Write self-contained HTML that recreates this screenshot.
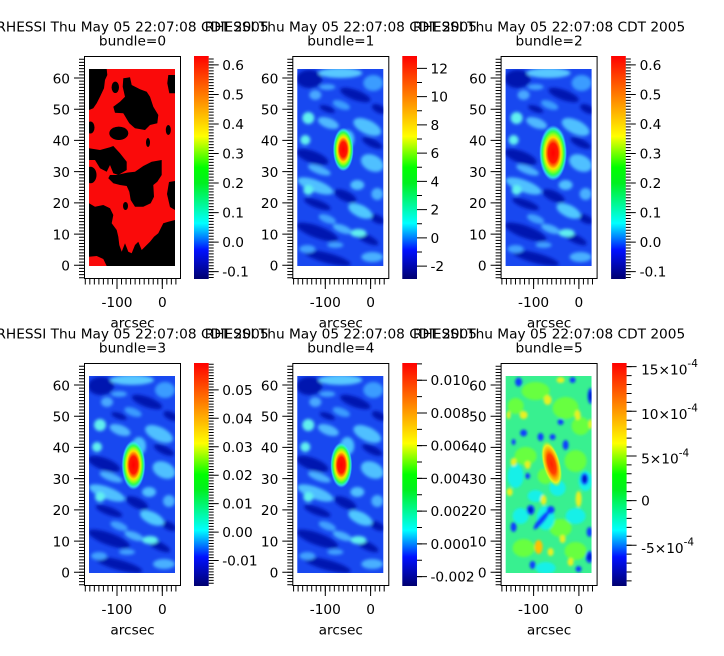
<!DOCTYPE html>
<html><head><meta charset="utf-8">
<style>
html,body{margin:0;padding:0;background:#fff;}
svg{display:block;}
text{font-family:"DejaVu Sans","Liberation Sans",sans-serif;font-size:13.7px;fill:#000;}
</style></head><body>
<svg width="724" height="656" viewBox="0 0 724 656" xmlns="http://www.w3.org/2000/svg">
<defs>
<linearGradient id="cb" x1="0" y1="0" x2="0" y2="1">
 <stop offset="0" stop-color="#ff0000"/>
 <stop offset="0.36" stop-color="#ffff00"/>
 <stop offset="0.5" stop-color="#00ff00"/>
 <stop offset="0.57" stop-color="#00f020"/>
 <stop offset="0.75" stop-color="#00ffff"/>
 <stop offset="0.87" stop-color="#0010ff"/>
 <stop offset="1" stop-color="#000070"/>
</linearGradient>
<radialGradient id="hs">
 <stop offset="0" stop-color="#ff0000"/>
 <stop offset="0.34" stop-color="#ff1800"/>
 <stop offset="0.46" stop-color="#ff8000"/>
 <stop offset="0.56" stop-color="#ffe000"/>
 <stop offset="0.66" stop-color="#a0ff10"/>
 <stop offset="0.77" stop-color="#30ff50"/>
 <stop offset="0.88" stop-color="#30f0e0" stop-opacity="0.85"/>
 <stop offset="1" stop-color="#40b0ff" stop-opacity="0"/>
</radialGradient>
<radialGradient id="hs6">
 <stop offset="0" stop-color="#ff2000"/>
 <stop offset="0.4" stop-color="#ff4000"/>
 <stop offset="0.6" stop-color="#ffa000"/>
 <stop offset="0.8" stop-color="#e8f020"/>
 <stop offset="1" stop-color="#80ff40" stop-opacity="0"/>
</radialGradient>
<clipPath id="ci"><rect x="0" y="0" width="86" height="197"/></clipPath>
<filter id="bl" x="-0.2" y="-0.2" width="1.4" height="1.4"><feGaussianBlur stdDeviation="1.6"/></filter>
<filter id="bl2" x="-0.2" y="-0.2" width="1.4" height="1.4"><feGaussianBlur stdDeviation="1.2"/></filter>
<g id="tex">
 <rect x="-5" y="-5" width="96" height="207" fill="#1848f0"/>
 <g filter="url(#bl)">
  <g fill="#0612b0">
   <ellipse cx="12" cy="10" rx="13" ry="9"/>
   <ellipse cx="58" cy="26" rx="16" ry="5" transform="rotate(20 58 26)"/>
   <ellipse cx="15" cy="88" rx="17" ry="6" transform="rotate(20 15 88)"/>
   <ellipse cx="75" cy="74" rx="11" ry="4" transform="rotate(25 75 74)"/>
   <ellipse cx="48" cy="127" rx="12" ry="5" transform="rotate(25 48 127)"/>
   <ellipse cx="20" cy="163" rx="22" ry="6" transform="rotate(20 20 163)"/>
   <ellipse cx="30" cy="189" rx="24" ry="5" transform="rotate(15 30 189)"/>
   <ellipse cx="70" cy="170" rx="12" ry="4" transform="rotate(25 70 170)"/>
   <ellipse cx="20" cy="135" rx="14" ry="4" transform="rotate(20 20 135)"/>
   <ellipse cx="82" cy="40" rx="8" ry="4" transform="rotate(25 82 40)"/>
   <ellipse cx="30" cy="40" rx="8" ry="3" transform="rotate(20 30 40)"/>
   <ellipse cx="80" cy="150" rx="8" ry="4" transform="rotate(25 80 150)"/>
  </g>
  <ellipse cx="43" cy="4" rx="22" ry="5" fill="#58c8ff"/>
  <ellipse cx="76" cy="14" rx="10" ry="8" fill="#3a9cff"/>
  <ellipse cx="18" cy="26" rx="6" ry="5" fill="#48a8ff"/>
  <ellipse cx="44" cy="36" rx="9" ry="4" transform="rotate(20 44 36)" fill="#3a9cff"/>
  <ellipse cx="11" cy="49" rx="6" ry="6" fill="#60f0f0"/>
  <ellipse cx="31" cy="54" rx="11" ry="5" transform="rotate(20 31 54)" fill="#50b8ff"/>
  <ellipse cx="8" cy="71" rx="5" ry="5" fill="#60f0f0"/>
  <ellipse cx="70" cy="58" rx="15" ry="7" transform="rotate(25 70 58)" fill="#50c0ff"/>
  <ellipse cx="75" cy="94" rx="12" ry="8" transform="rotate(25 75 94)" fill="#50c0ff"/>
  <ellipse cx="18" cy="117" rx="19" ry="6" transform="rotate(20 18 117)" fill="#50c0ff"/>
  <ellipse cx="11" cy="121" rx="5" ry="5" fill="#60f0f0"/>
  <ellipse cx="60" cy="116" rx="7" ry="5" fill="#50c0ff"/>
  <ellipse cx="63" cy="142" rx="13" ry="6" transform="rotate(25 63 142)" fill="#50c8ff"/>
  <ellipse cx="61" cy="164" rx="8" ry="4" fill="#60f0f0"/>
  <ellipse cx="75" cy="188" rx="11" ry="5" fill="#48b0ff"/>
  <ellipse cx="30" cy="150" rx="9" ry="4" transform="rotate(20 30 150)" fill="#40a0ff"/>
  <ellipse cx="38" cy="176" rx="8" ry="3" fill="#40a0ff"/>
  <ellipse cx="30" cy="18" rx="8" ry="3" fill="#40a0ff"/>
  <ellipse cx="50" cy="70" rx="7" ry="9" fill="#48c0ff"/>
  <ellipse cx="22" cy="101" rx="12" ry="4" transform="rotate(20 22 101)" fill="#48b0ff"/>
  <ellipse cx="45" cy="160" rx="10" ry="4" transform="rotate(20 45 160)" fill="#48b0ff"/>
  <ellipse cx="10" cy="180" rx="8" ry="4" fill="#40a0ff"/>
  <ellipse cx="80" cy="125" rx="6" ry="6" fill="#48b0ff"/>
 </g>
</g>
</defs>

<!-- ================= PANEL 0 ================= -->
<g transform="translate(0,0)">
<text x="132.5" y="31.5" text-anchor="middle">RHESSI Thu May 05 22:07:08 CDT 2005</text>
<text x="132.5" y="45.5" text-anchor="middle">bundle=0</text>
<g transform="translate(89,69)" clip-path="url(#ci)">
<rect width="86" height="197" fill="#fa0a0a"/>
<g fill="#000">
<polygon points="0,0 17.7,0 18.3,6 16,11 15,19.3 11,27.7 7.7,34.3 4.3,39.3 0,41"/>
<ellipse cx="26.3" cy="18.3" rx="3.7" ry="5.7"/>
<polygon points="34.3,9.3 41,8.3 42.7,16 51,20.3 57.7,22.7 61,27.7 64.3,37.7 69.3,46 68.3,54.3 61,56 56,61 46,59.3 40.3,54.3 34.3,44.3 26,43.7 24.3,37.7 31,32.7 36,27.7 33.7,17.7"/>
<polygon points="79.3,6 86,6 86,24.3 80.3,24.3 78.3,14.3"/>
<ellipse cx="1.5" cy="58.5" rx="4" ry="6"/>
<ellipse cx="29.8" cy="64.3" rx="9.5" ry="6.7"/>
<ellipse cx="79.3" cy="61" rx="2.5" ry="5"/>
<ellipse cx="59" cy="73.5" rx="2" ry="4.5"/>
<polygon points="0,79.3 11,81 21,78.3 24.3,77 31,84.3 37.7,92.7 37.7,101 29.3,106 24.3,104.3 21,96 17.7,102.7 11,99.3 6,91 0,91"/>
<ellipse cx="1.5" cy="106" rx="6" ry="8.3"/>
<polygon points="72.7,91 72.7,106 68.3,112.7 64.3,116 65,127.7 61.7,134.3 54.3,137.7 46,137.7 41.7,131 40.3,122.7 37.7,117 31,116 24.3,114.3 19.3,109.3 21,106 27.7,106 37.7,103.7 46,102.7 54.3,97 62.7,92.7"/>
<polygon points="80,113 86,112 86,141 81,138 78,125"/>
<ellipse cx="36.5" cy="137" rx="2.5" ry="4"/>
<polygon points="0,134.3 6,137.7 14.3,136 21,139.3 24.3,146 22.7,154.3 27.7,161 29.3,167.7 30.3,176 32.7,182.7 36,174.3 39.3,182.7 42.7,184.3 46,176 49.3,172.7 52.7,181 57.7,176 61,172.7 65,167.7 69.3,164.3 74.3,154.3 79.3,152.7 86,151 86,197 17.7,197 14.3,190 7.7,187 0,187.7"/>
</g>
</g>
<rect x="84.5" y="56.5" width="96" height="222" fill="none" stroke="#000"/>
<line x1="81.75" y1="58.75" x2="81.75" y2="278.29" stroke="#000" stroke-width="5.5" stroke-dasharray="1 2.122"/>
<path d="M74 265.3H84.5M74 234.08H84.5M74 202.86H84.5M74 171.64H84.5M74 140.42H84.5M74 109.2H84.5M74 77.98H84.5" stroke="#000"/>
<text x="70" y="270.6" text-anchor="end">0</text>
<text x="70" y="239.4" text-anchor="end">10</text>
<text x="70" y="208.2" text-anchor="end">20</text>
<text x="70" y="176.9" text-anchor="end">30</text>
<text x="70" y="145.7" text-anchor="end">40</text>
<text x="70" y="114.5" text-anchor="end">50</text>
<text x="70" y="83.3" text-anchor="end">60</text>
<line x1="84.79" y1="281.5" x2="176.39" y2="281.5" stroke="#000" stroke-width="6" stroke-dasharray="1 3.53"/>
<path d="M117 278.5V289M162.3 278.5V289" stroke="#000"/>
<text x="117" y="307" text-anchor="middle">-100</text>
<text x="162.3" y="307" text-anchor="middle">0</text>
<text x="132.5" y="327.3" text-anchor="middle">arcsec</text>
<rect x="194" y="56" width="14.7" height="223" fill="url(#cb)"/>
<line x1="211.2" y1="58.51" x2="211.2" y2="278.04" stroke="#000" stroke-width="5" stroke-dasharray="1 1.953"/>
<path d="M208.7 64.92H218.7M208.7 94.45H218.7M208.7 123.98H218.7M208.7 153.51H218.7M208.7 183.04H218.7M208.7 212.57H218.7M208.7 242.1H218.7M208.7 271.63H218.7" stroke="#000"/>
<text x="222.2" y="69.9">0.6</text>
<text x="222.2" y="99.5">0.5</text>
<text x="222.2" y="129">0.4</text>
<text x="222.2" y="158.5">0.3</text>
<text x="222.2" y="188">0.2</text>
<text x="222.2" y="217.6">0.1</text>
<text x="222.2" y="247.1">0.0</text>
<text x="222.2" y="276.6">-0.1</text>
</g>

<!-- ================= PANEL 1 ================= -->
<g transform="translate(208.3,0)">
<text x="132.5" y="31.5" text-anchor="middle">RHESSI Thu May 05 22:07:08 CDT 2005</text>
<text x="132.5" y="45.5" text-anchor="middle">bundle=1</text>
<g transform="translate(89,69)" clip-path="url(#ci)">
<use href="#tex"/>
<ellipse cx="46" cy="80.5" rx="10.5" ry="22" fill="url(#hs)"/>
</g>
<rect x="84.5" y="56.5" width="96" height="222" fill="none" stroke="#000"/>
<line x1="81.75" y1="58.75" x2="81.75" y2="278.29" stroke="#000" stroke-width="5.5" stroke-dasharray="1 2.122"/>
<path d="M74 265.3H84.5M74 234.08H84.5M74 202.86H84.5M74 171.64H84.5M74 140.42H84.5M74 109.2H84.5M74 77.98H84.5" stroke="#000"/>
<text x="70" y="270.6" text-anchor="end">0</text>
<text x="70" y="239.4" text-anchor="end">10</text>
<text x="70" y="208.2" text-anchor="end">20</text>
<text x="70" y="176.9" text-anchor="end">30</text>
<text x="70" y="145.7" text-anchor="end">40</text>
<text x="70" y="114.5" text-anchor="end">50</text>
<text x="70" y="83.3" text-anchor="end">60</text>
<line x1="84.79" y1="281.5" x2="176.39" y2="281.5" stroke="#000" stroke-width="6" stroke-dasharray="1 3.53"/>
<path d="M117 278.5V289M162.3 278.5V289" stroke="#000"/>
<text x="117" y="307" text-anchor="middle">-100</text>
<text x="162.3" y="307" text-anchor="middle">0</text>
<text x="132.5" y="327.3" text-anchor="middle">arcsec</text>
<rect x="194" y="56" width="14.7" height="223" fill="url(#cb)"/>
<path d="M208.7 68.34H218.7M208.7 96.6H218.7M208.7 124.86H218.7M208.7 153.13H218.7M208.7 181.39H218.7M208.7 209.66H218.7M208.7 237.92H218.7M208.7 266.18H218.7M208.7 82.47H213.7M208.7 110.73H213.7M208.7 139H213.7M208.7 167.26H213.7M208.7 195.52H213.7M208.7 223.79H213.7M208.7 252.05H213.7" stroke="#000"/>
<text x="222.2" y="73.3">12</text>
<text x="222.2" y="101.6">10</text>
<text x="222.2" y="129.9">8</text>
<text x="222.2" y="158.1">6</text>
<text x="222.2" y="186.4">4</text>
<text x="222.2" y="214.7">2</text>
<text x="222.2" y="242.9">0</text>
<text x="222.2" y="271.2">-2</text>
</g>

<!-- ================= PANEL 2 ================= -->
<g transform="translate(416.6,0)">
<text x="132.5" y="31.5" text-anchor="middle">RHESSI Thu May 05 22:07:08 CDT 2005</text>
<text x="132.5" y="45.5" text-anchor="middle">bundle=2</text>
<g transform="translate(89,69)" clip-path="url(#ci)">
<use href="#tex"/>
<ellipse cx="47.5" cy="84" rx="14" ry="28" fill="url(#hs)"/>
</g>
<rect x="84.5" y="56.5" width="96" height="222" fill="none" stroke="#000"/>
<line x1="81.75" y1="58.75" x2="81.75" y2="278.29" stroke="#000" stroke-width="5.5" stroke-dasharray="1 2.122"/>
<path d="M74 265.3H84.5M74 234.08H84.5M74 202.86H84.5M74 171.64H84.5M74 140.42H84.5M74 109.2H84.5M74 77.98H84.5" stroke="#000"/>
<text x="70" y="270.6" text-anchor="end">0</text>
<text x="70" y="239.4" text-anchor="end">10</text>
<text x="70" y="208.2" text-anchor="end">20</text>
<text x="70" y="176.9" text-anchor="end">30</text>
<text x="70" y="145.7" text-anchor="end">40</text>
<text x="70" y="114.5" text-anchor="end">50</text>
<text x="70" y="83.3" text-anchor="end">60</text>
<line x1="84.79" y1="281.5" x2="176.39" y2="281.5" stroke="#000" stroke-width="6" stroke-dasharray="1 3.53"/>
<path d="M117 278.5V289M162.3 278.5V289" stroke="#000"/>
<text x="117" y="307" text-anchor="middle">-100</text>
<text x="162.3" y="307" text-anchor="middle">0</text>
<text x="132.5" y="327.3" text-anchor="middle">arcsec</text>
<rect x="194.5" y="56" width="14.7" height="223" fill="url(#cb)"/>
<line x1="211.7" y1="58.51" x2="211.7" y2="278.04" stroke="#000" stroke-width="5" stroke-dasharray="1 1.953"/>
<path d="M209.2 64.92H219.2M209.2 94.45H219.2M209.2 123.98H219.2M209.2 153.51H219.2M209.2 183.04H219.2M209.2 212.57H219.2M209.2 242.1H219.2M209.2 271.63H219.2" stroke="#000"/>
<text x="223" y="69.9">0.6</text>
<text x="223" y="99.5">0.5</text>
<text x="223" y="129">0.4</text>
<text x="223" y="158.5">0.3</text>
<text x="223" y="188">0.2</text>
<text x="223" y="217.6">0.1</text>
<text x="223" y="247.1">0.0</text>
<text x="223" y="276.6">-0.1</text>
</g>

<!-- ================= PANEL 3 ================= -->
<g transform="translate(0,307)">
<text x="132.5" y="31.5" text-anchor="middle">RHESSI Thu May 05 22:07:08 CDT 2005</text>
<text x="132.5" y="45.5" text-anchor="middle">bundle=3</text>
<g transform="translate(89,69)" clip-path="url(#ci)">
<use href="#tex"/>
<ellipse cx="44.5" cy="89" rx="12" ry="25" fill="url(#hs)"/>
</g>
<rect x="84.5" y="56.5" width="96" height="222" fill="none" stroke="#000"/>
<line x1="81.75" y1="58.75" x2="81.75" y2="278.29" stroke="#000" stroke-width="5.5" stroke-dasharray="1 2.122"/>
<path d="M74 265.3H84.5M74 234.08H84.5M74 202.86H84.5M74 171.64H84.5M74 140.42H84.5M74 109.2H84.5M74 77.98H84.5" stroke="#000"/>
<text x="70" y="270.6" text-anchor="end">0</text>
<text x="70" y="239.4" text-anchor="end">10</text>
<text x="70" y="208.2" text-anchor="end">20</text>
<text x="70" y="176.9" text-anchor="end">30</text>
<text x="70" y="145.7" text-anchor="end">40</text>
<text x="70" y="114.5" text-anchor="end">50</text>
<text x="70" y="83.3" text-anchor="end">60</text>
<line x1="84.79" y1="281.5" x2="176.39" y2="281.5" stroke="#000" stroke-width="6" stroke-dasharray="1 3.53"/>
<path d="M117 278.5V289M162.3 278.5V289" stroke="#000"/>
<text x="117" y="307" text-anchor="middle">-100</text>
<text x="162.3" y="307" text-anchor="middle">0</text>
<text x="132.5" y="327.3" text-anchor="middle">arcsec</text>
<rect x="194" y="56" width="14.7" height="223" fill="url(#cb)"/>
<line x1="211.2" y1="56.77" x2="211.2" y2="276.76" stroke="#000" stroke-width="5" stroke-dasharray="1 1.844"/>
<path d="M208.7 82.87H218.7M208.7 111.31H218.7M208.7 139.75H218.7M208.7 168.19H218.7M208.7 196.63H218.7M208.7 225.07H218.7M208.7 253.51H218.7" stroke="#000"/>
<text x="222.2" y="87.9">0.05</text>
<text x="222.2" y="116.3">0.04</text>
<text x="222.2" y="144.8">0.03</text>
<text x="222.2" y="173.2">0.02</text>
<text x="222.2" y="201.6">0.01</text>
<text x="222.2" y="230.1">0.00</text>
<text x="222.2" y="258.5">-0.01</text>
</g>

<!-- ================= PANEL 4 ================= -->
<g transform="translate(208.3,307)">
<text x="132.5" y="31.5" text-anchor="middle">RHESSI Thu May 05 22:07:08 CDT 2005</text>
<text x="132.5" y="45.5" text-anchor="middle">bundle=4</text>
<g transform="translate(89,69)" clip-path="url(#ci)">
<use href="#tex"/>
<ellipse cx="44" cy="89" rx="11" ry="23" fill="url(#hs)"/>
</g>
<rect x="84.5" y="56.5" width="96" height="222" fill="none" stroke="#000"/>
<line x1="81.75" y1="58.75" x2="81.75" y2="278.29" stroke="#000" stroke-width="5.5" stroke-dasharray="1 2.122"/>
<path d="M74 265.3H84.5M74 234.08H84.5M74 202.86H84.5M74 171.64H84.5M74 140.42H84.5M74 109.2H84.5M74 77.98H84.5" stroke="#000"/>
<text x="70" y="270.6" text-anchor="end">0</text>
<text x="70" y="239.4" text-anchor="end">10</text>
<text x="70" y="208.2" text-anchor="end">20</text>
<text x="70" y="176.9" text-anchor="end">30</text>
<text x="70" y="145.7" text-anchor="end">40</text>
<text x="70" y="114.5" text-anchor="end">50</text>
<text x="70" y="83.3" text-anchor="end">60</text>
<line x1="84.79" y1="281.5" x2="176.39" y2="281.5" stroke="#000" stroke-width="6" stroke-dasharray="1 3.53"/>
<path d="M117 278.5V289M162.3 278.5V289" stroke="#000"/>
<text x="117" y="307" text-anchor="middle">-100</text>
<text x="162.3" y="307" text-anchor="middle">0</text>
<text x="132.5" y="327.3" text-anchor="middle">arcsec</text>
<rect x="194" y="56" width="14.7" height="223" fill="url(#cb)"/>
<line x1="211.2" y1="56.33" x2="211.2" y2="270.15" stroke="#000" stroke-width="5" stroke-dasharray="1 15.371"/>
<path d="M208.7 73.2H218.7M208.7 105.94H218.7M208.7 138.68H218.7M208.7 171.43H218.7M208.7 204.17H218.7M208.7 236.91H218.7M208.7 269.65H218.7" stroke="#000"/>
<text x="222.2" y="78.2">0.010</text>
<text x="222.2" y="110.9">0.008</text>
<text x="222.2" y="143.7">0.006</text>
<text x="222.2" y="176.4">0.004</text>
<text x="222.2" y="209.2">0.002</text>
<text x="222.2" y="241.9">0.000</text>
<text x="222.2" y="274.7">-0.002</text>
</g>

<!-- ================= PANEL 5 ================= -->
<g transform="translate(416.6,307)">
<text x="132.5" y="31.5" text-anchor="middle">RHESSI Thu May 05 22:07:08 CDT 2005</text>
<text x="132.5" y="45.5" text-anchor="middle">bundle=5</text>
<g transform="translate(89,69)" clip-path="url(#ci)">
<rect width="86" height="197" fill="#38f090"/>
<g filter="url(#bl2)">
 <g fill="#68ff40">
  <ellipse cx="30" cy="15" rx="14" ry="9"/>
  <ellipse cx="60" cy="32" rx="13" ry="11"/>
  <ellipse cx="20" cy="80" rx="11" ry="9"/>
  <ellipse cx="70" cy="85" rx="11" ry="11"/>
  <ellipse cx="55" cy="152" rx="11" ry="9"/>
  <ellipse cx="18" cy="172" rx="11" ry="9"/>
  <ellipse cx="70" cy="175" rx="11" ry="9"/>
  <ellipse cx="75" cy="50" rx="9" ry="9"/>
  <ellipse cx="10" cy="30" rx="8" ry="8"/>
  <ellipse cx="40" cy="100" rx="8" ry="8"/>
 </g>
 <g fill="#18f0e8">
  <ellipse cx="10" cy="100" rx="8" ry="12"/>
  <ellipse cx="52" cy="112" rx="8" ry="8"/>
  <ellipse cx="70" cy="140" rx="10" ry="8"/>
  <ellipse cx="30" cy="120" rx="8" ry="6"/>
  <ellipse cx="40" cy="192" rx="10" ry="6"/>
  <ellipse cx="15" cy="140" rx="8" ry="8"/>
  <ellipse cx="80" cy="105" rx="7" ry="10"/>
  <ellipse cx="40" cy="142" rx="9" ry="12"/>
 </g>
 <g fill="#e8f020">
  <ellipse cx="42" cy="24" rx="4" ry="5"/>
  <ellipse cx="18" cy="39" rx="4" ry="4"/>
  <ellipse cx="3" cy="39" rx="2" ry="4"/>
  <ellipse cx="72" cy="39" rx="3" ry="5"/>
  <ellipse cx="85" cy="48" rx="2" ry="5"/>
  <ellipse cx="8" cy="86" rx="3" ry="4"/>
  <ellipse cx="22" cy="89" rx="3" ry="4"/>
  <ellipse cx="4" cy="116" rx="3" ry="4"/>
  <ellipse cx="38" cy="124" rx="3" ry="5"/>
  <ellipse cx="73" cy="123" rx="3" ry="8"/>
  <ellipse cx="57" cy="163" rx="3" ry="4"/>
  <ellipse cx="45" cy="176" rx="3" ry="4"/>
  <ellipse cx="65" cy="186" rx="3" ry="4"/>
  <ellipse cx="55" cy="4" rx="4" ry="3"/>
 </g>
 <ellipse cx="33" cy="171" rx="4" ry="7" fill="#ffc000"/>
 <g fill="#1040ff">
  <ellipse cx="13" cy="6" rx="3.5" ry="4.5"/>
  <ellipse cx="67" cy="4" rx="3" ry="3"/>
  <ellipse cx="85" cy="20" rx="3" ry="8"/>
  <ellipse cx="55" cy="46" rx="3" ry="3"/>
  <ellipse cx="18" cy="57" rx="3.5" ry="3.5"/>
  <ellipse cx="35" cy="61" rx="3" ry="4"/>
  <ellipse cx="47" cy="61" rx="3" ry="3"/>
  <ellipse cx="60" cy="69" rx="3" ry="5"/>
  <ellipse cx="79" cy="103" rx="4" ry="6"/>
  <ellipse cx="25" cy="134" rx="4" ry="5"/>
  <ellipse cx="45" cy="134" rx="4" ry="4"/>
  <ellipse cx="36" cy="144" rx="3" ry="12" transform="rotate(40 36 144)"/>
  <ellipse cx="8" cy="151" rx="3" ry="5"/>
  <ellipse cx="84" cy="156" rx="3" ry="5"/>
  <ellipse cx="84" cy="181" rx="4" ry="6"/>
  <ellipse cx="27" cy="189" rx="3" ry="4"/>
  <ellipse cx="73" cy="193" rx="3" ry="3"/>
  <ellipse cx="22" cy="100" rx="2.5" ry="3"/>
  <ellipse cx="8" cy="66" rx="2" ry="3"/>
 </g>
 <g fill="#0010c0">
  <ellipse cx="85" cy="20" rx="1.5" ry="5"/>
  <ellipse cx="79" cy="103" rx="2" ry="3.5"/>
  <ellipse cx="25" cy="134" rx="2" ry="3"/>
  <ellipse cx="84" cy="181" rx="2" ry="3.5"/>
 </g>
</g>
<ellipse cx="46" cy="88" rx="9" ry="24" transform="rotate(-15 46 88)" fill="url(#hs6)"/>
</g>
<rect x="84.5" y="56.5" width="96" height="222" fill="none" stroke="#000"/>
<line x1="81.75" y1="58.75" x2="81.75" y2="278.29" stroke="#000" stroke-width="5.5" stroke-dasharray="1 2.122"/>
<path d="M74 265.3H84.5M74 234.08H84.5M74 202.86H84.5M74 171.64H84.5M74 140.42H84.5M74 109.2H84.5M74 77.98H84.5" stroke="#000"/>
<text x="70" y="270.6" text-anchor="end">0</text>
<text x="70" y="239.4" text-anchor="end">10</text>
<text x="70" y="208.2" text-anchor="end">20</text>
<text x="70" y="176.9" text-anchor="end">30</text>
<text x="70" y="145.7" text-anchor="end">40</text>
<text x="70" y="114.5" text-anchor="end">50</text>
<text x="70" y="83.3" text-anchor="end">60</text>
<line x1="84.79" y1="281.5" x2="176.39" y2="281.5" stroke="#000" stroke-width="6" stroke-dasharray="1 3.53"/>
<path d="M117 278.5V289M162.3 278.5V289" stroke="#000"/>
<text x="117" y="307" text-anchor="middle">-100</text>
<text x="162.3" y="307" text-anchor="middle">0</text>
<text x="132.5" y="327.3" text-anchor="middle">arcsec</text>
<rect x="195.5" y="56" width="14.5" height="223" fill="url(#cb)"/>
<line x1="212.5" y1="59.16" x2="212.5" y2="274.43" stroke="#000" stroke-width="5" stroke-dasharray="1 7.928"/>
<path d="M210 59.66H220M210 104.3H220M210 148.94H220M210 193.58H220M210 238.22H220" stroke="#000"/>
<text x="224.5" y="67.4">15×10<tspan dy="-7.3" font-size="10.5">-4</tspan></text>
<text x="224.5" y="112">10×10<tspan dy="-7.3" font-size="10.5">-4</tspan></text>
<text x="224.5" y="156.6">5×10<tspan dy="-7.3" font-size="10.5">-4</tspan></text>
<text x="224.5" y="198.6">0</text>
<text x="224.5" y="245.9">-5×10<tspan dy="-7.3" font-size="10.5">-4</tspan></text>
</g>
</svg>
</body></html>
